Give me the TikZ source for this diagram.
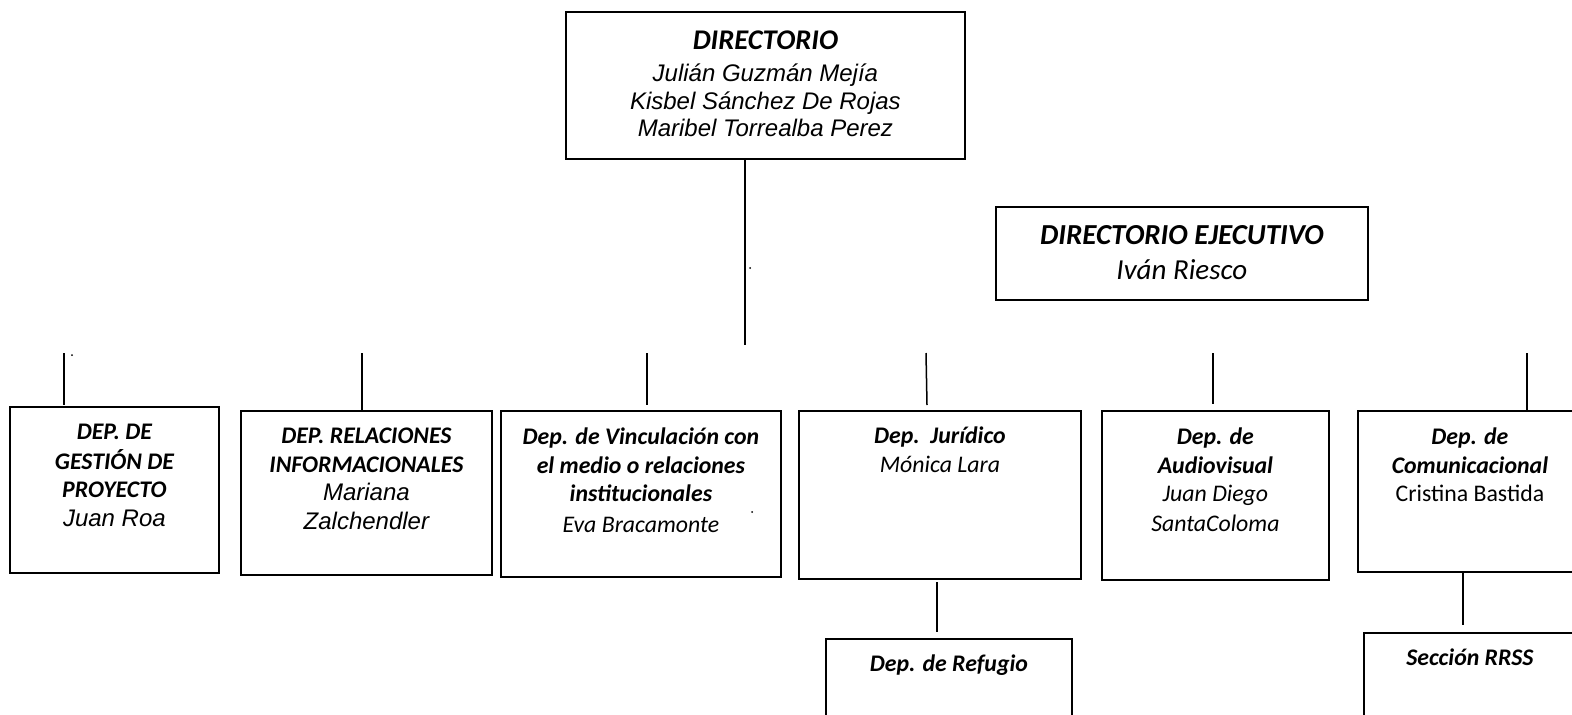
\documentclass[tikz,border=0pt]{standalone}
\usepackage{fontspec}
\newfontfamily\carl{Carlito}
\newfontfamily\ari{Liberation Sans}
\newcommand\arl{\ari\itshape\fontsize{24}{26.7}\selectfont\strut}
\begin{document}
\begin{tikzpicture}[x=1pt,y=-1pt,
  box/.style={draw, line width=1.8pt, inner sep=0pt, anchor=north west},
  conn/.style={line width=1.5pt},
  txt/.style={anchor=north, inner sep=0pt, align=center},
  bfs/.style={font=\carl\fontsize{23.8}{28.5}\selectfont},
  straydot/.style={fill=black}]
\useasboundingbox (0,0) rectangle (1572,715);
% boxes
\node[box, minimum width=399pt, minimum height=147pt] (dir) at (565,11) {};
\node[box, minimum width=372pt, minimum height=93pt] (ejec) at (995,206) {};
\node[box, minimum width=209pt, minimum height=166pt] (b1) at (9,406) {};
\node[box, minimum width=251pt, minimum height=164pt] (b2) at (240,410) {};
\node[box, minimum width=280pt, minimum height=166pt] (b3) at (500,410) {};
\node[box, minimum width=282pt, minimum height=168pt] (b4) at (798,410) {};
\node[box, minimum width=227pt, minimum height=169pt] (b5) at (1101,410) {};
\node[box, minimum width=224pt, minimum height=161pt] (b6) at (1357,410) {};
\node[box, minimum width=246pt, minimum height=110pt] (ref) at (825,638) {};
\node[box, minimum width=212pt, minimum height=110pt] (rrss) at (1363,632) {};
% texts
\node[txt] (dirt) at ([yshift=-19.4pt]dir.north)
  {{\carl\bfseries\itshape\fontsize{28.5}{26.7}\selectfont\strut DIRECTORIO}\\[4.6pt]
   \arl Julián Guzmán Mejía\\ \arl Kisbel Sánchez De Rojas\\ \arl Maribel Torrealba Perez};
\node[txt, font=\carl\fontsize{29}{35}\selectfont] (eject) at ([yshift=-13.8pt]ejec.north)
  {\strut\bfseries\itshape DIRECTORIO EJECUTIVO\\ \strut\itshape Iván Riesco};
\node[txt, bfs] (b1t) at ([yshift=-13.6pt]b1.north)
  {\strut\bfseries\itshape DEP. DE\\ \strut\bfseries\itshape GESTIÓN DE\\ \strut\bfseries\itshape PROYECTO\\
   \ari\itshape\fontsize{24}{28.5}\selectfont\strut Juan Roa};
\node[txt, bfs] (b2t) at ([yshift=-13.6pt]b2.north)
  {\strut\bfseries\itshape DEP. RELACIONES\\ \strut\bfseries\itshape INFORMACIONALES\\
   \ari\itshape\fontsize{24}{28.5}\selectfont\strut Mariana\\ \ari\itshape\fontsize{24}{28.5}\selectfont\strut Zalchendler};
\node[txt, bfs] (b3t) at ([yshift=-14.6pt]b3.north)
  {\strut\bfseries\itshape Dep. de Vinculación con\\ \strut\bfseries\itshape el medio o relaciones\\
   \strut\bfseries\itshape institucionales\\[2.5pt] \strut\itshape Eva Bracamonte};
\node[txt, bfs] (b4t) at ([yshift=-13.6pt]b4.north)
  {\strut\bfseries\itshape Dep.\ \ Jurídico\\ \strut\itshape Mónica Lara};
\node[txt, bfs] (b5t) at ([yshift=-14.6pt]b5.north)
  {\strut\bfseries\itshape Dep. de\\ \strut\bfseries\itshape Audiovisual\\ \strut\itshape Juan Diego\\[1.5pt] \strut\itshape SantaColoma};
\node[txt, bfs] (b6t) at ([yshift=-14.6pt]b6.north)
  {\strut\bfseries\itshape Dep. de\\ \strut\bfseries\itshape Comunicacional\\ \strut Cristina Bastida};
\node[txt, bfs] (reft) at ([yshift=-13.6pt]ref.north) {\strut\bfseries\itshape Dep. de Refugio};
\node[txt, bfs] (rrsst) at ([yshift=-13.6pt]rrss.north) {\strut\bfseries\itshape Sección RRSS};
% connector ends
\coordinate (c0) at (745,345);
\coordinate (t1) at (64,353);
\coordinate (t2) at (362,353);
\coordinate (t3) at (647,353);
\coordinate (t4) at (926,353);
\coordinate (t5) at (1213,353);
\coordinate (t6) at (1527,353);
\coordinate (s4) at (937,582);
\coordinate (s6) at (1463,572);
% connectors
\draw[conn] (dir.south -| c0) -- (c0);
\draw[conn] (t1) -- ([yshift=1pt]b1.north -| t1);
\draw[conn] (t2) -- (b2.north -| t2);
\draw[conn] (t3) -- ([yshift=5pt]b3.north -| t3);
\draw[conn] (t4) -- ([yshift=5pt,xshift=1pt]b4.north -| t4);
\draw[conn] (t5) -- ([yshift=6pt]b5.north -| t5);
\draw[conn] (t6) -- (b6.north -| t6);
\draw[conn] (s4) -- ([yshift=6pt]ref.north -| s4);
\draw[conn] (s6) -- ([yshift=7pt]rrss.north -| s6);
% stray dots
\fill[straydot] (72,355) circle (1pt);
\fill[straydot] (750,268) circle (1pt);
\fill[straydot] (752,512) circle (1pt);
\end{tikzpicture}
\end{document}
